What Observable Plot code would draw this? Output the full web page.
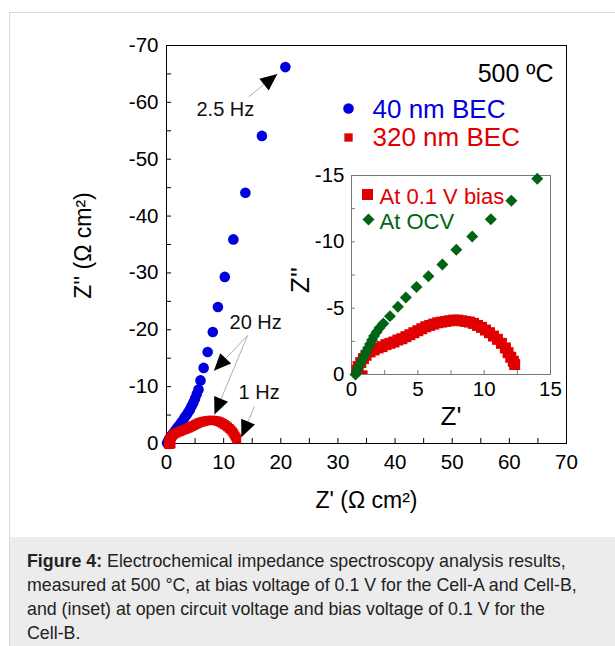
<!DOCTYPE html>
<html><head><meta charset="utf-8">
<script src="https://cdn.jsdelivr.net/npm/d3@7"></script>
<script src="https://cdn.jsdelivr.net/npm/@observablehq/plot@0.6"></script>
<style>
html,body{margin:0;padding:0;background:#fff;}
body{width:615px;height:646px;position:relative;overflow:hidden;font-family:"Liberation Sans",Arial,sans-serif;}
#panel{position:absolute;left:9px;top:12px;width:620px;height:650px;border:1px solid #d9d9d9;box-sizing:border-box;}
#main{position:absolute;left:0;top:0;}
#inset{position:absolute;left:300px;top:150px;}
#caption{position:absolute;left:10px;top:537px;width:605px;height:109px;background:#ececec;}
#caption p{margin:0;position:absolute;left:17px;top:12px;white-space:nowrap;font-size:17.8px;line-height:24px;color:#222;}
svg{overflow:visible;}
</style></head>
<body>
<div id="panel"></div>
<div id="caption"><p><b>Figure 4:</b> Electrochemical impedance spectroscopy analysis results,<br>measured at 500 °C, at bias voltage of 0.1 V for the Cell-A and Cell-B,<br>and (inset) at open circuit voltage and bias voltage of 0.1 V for the<br>Cell-B.</p></div>
<div id="main"></div>
<div id="inset"></div>
<script>
// ---------- data (Z' , Z'' in Ω cm²) ----------
const blueZre = [0.1,0.3,0.5,0.8,1.1,1.4,1.7,2.0,2.3,2.6,2.9,3.2,3.5,3.8,4.1,4.4,4.7,5.0,5.3,5.6,5.95,6.5,7.2,8.1,9.0,10.2,11.7,13.8,16.7,20.8];
const blueZim = [-0.1,-0.5,-0.9,-1.3,-1.7,-2.1,-2.5,-2.9,-3.3,-3.7,-4.1,-4.6,-5.0,-5.5,-6.0,-6.6,-7.2,-7.9,-8.7,-9.5,-11.1,-13.3,-16.1,-19.6,-24.0,-29.3,-35.9,-44.1,-54.1,-66.2];
const redZre = [0.3,0.5,0.8,0.4,0.5,0.7,0.9,1.1,1.4,1.7,2.0,2.3,2.6,2.9,3.2,3.5,3.8,4.1,4.4,4.7,5.0,5.3,5.6,5.9,6.2,6.5,6.8,7.1,7.4,7.7,8.0,8.3,8.6,8.9,9.2,9.5,9.8,10.1,10.4,10.7,11.0,11.3,11.6,11.8,12.0,12.2,12.3];
const redZim = [0.1,0.2,0.1,-0.3,-0.6,-0.9,-1.2,-1.45,-1.7,-1.85,-2.0,-2.1,-2.25,-2.35,-2.45,-2.6,-2.7,-2.85,-3.0,-3.15,-3.3,-3.45,-3.6,-3.7,-3.8,-3.9,-3.95,-4.0,-4.05,-4.1,-4.1,-4.05,-4.0,-3.95,-3.85,-3.7,-3.55,-3.35,-3.15,-2.9,-2.65,-2.35,-2.0,-1.65,-1.3,-1.0,-0.75];
const greenZre = [0.3,0.4,0.5,0.65,0.8,0.95,1.1,1.25,1.4,1.55,1.7,1.9,2.1,2.4,2.9,3.5,4.1,4.9,5.8,6.85,7.9,9.1,10.5,12.05,14.0];
const greenZim = [0.0,-0.25,-0.5,-0.8,-1.1,-1.4,-1.7,-2.0,-2.3,-2.6,-2.9,-3.2,-3.5,-3.85,-4.4,-5.1,-5.8,-6.6,-7.4,-8.3,-9.4,-10.4,-11.7,-13.1,-14.75];

// tick values
const mainMajor = [0,10,20,30,40,50,60,70];
const mainMinor = [5,15,25,35,45,55,65];
const insetMajor = [0,5,10,15];
const insetMinor = [2.5,7.5,12.5];

// annotations
const freqLabels = ["2.5 Hz","20 Hz","1 Hz"];
const freqLabelZre = [10.3,15.6,16.2];
const freqLabelZim = [-58.7,-21.3,-9.0];
const arrowFromZre = [14.4,14.2,14.2,15.4];
const arrowFromZim = [-61.0,-19.0,-19.0,-6.5];
const arrowToZre = [19.4,8.3,8.4,13.1];
const arrowToZim = [-65.0,-12.8,-5.1,-1.1];

const seriesNames = ["40 nm BEC","320 nm BEC"];
const insetNames = ["At 0.1 V bias","At OCV"];
const tempLabel = "500 ºC";

const BLUE = "#0000dc", RED = "#e00000", GREEN = "#006414";
const FONT = "Liberation Sans, Arial, Helvetica, sans-serif";

const pts = (xs, ys) => xs.map((x, i) => ({x, y: ys[i]}));
const blue = pts(blueZre, blueZim);
const red = pts(redZre, redZim);
const green = pts(greenZre, greenZim);
const fmt = d => String(d);

// ---------- main plot ----------
const W = 615, H = 530, ML = 166, MR = 49, MT = 45, MB = 87;
const kx = (W - ML - MR) / 70, ky = (H - MT - MB) / 70;
const tick = 5;
const allMain = mainMajor.concat(mainMinor);

const arrows = arrowFromZre.map((x1, i) => {
  const x2 = arrowToZre[i], y1 = arrowFromZim[i], y2 = arrowToZim[i];
  const dx = (x2 - x1) * kx, dy = (y2 - y1) * ky;
  return {x1, y1, x2, y2, angle: Math.atan2(dx, -dy) * 180 / Math.PI};
});
const labels = freqLabels.map((t, i) => ({t, x: freqLabelZre[i], y: freqLabelZim[i]}));

const head = {
  draw(context, l) {
    const w = 7.5;
    context.moveTo(0, -l);
    context.lineTo(-w, 0);
    context.lineTo(w, 0);
    context.closePath();
  }
};

const main = Plot.plot({
  width: W, height: H, marginLeft: ML, marginRight: MR, marginTop: MT, marginBottom: MB,
  style: {fontFamily: FONT, fontSize: "20px", color: "black", background: "transparent", overflow: "visible"},
  x: {domain: [0, 70]},
  y: {domain: [0, -70]},
  marks: [
    Plot.axisX({ticks: mainMajor, tickSize: 0, tickPadding: 11, tickFormat: fmt, label: null, fontSize: 20.5}),
    Plot.axisY({ticks: mainMajor.map(d => -d), tickSize: 0, tickPadding: 8, tickFormat: fmt, label: null, fontSize: 20.5}),
    Plot.ruleX(allMain, {x: d => d, y1: 0, y2: -tick / ky, stroke: "black"}),
    Plot.ruleY(allMain, {y: d => -d, x1: 0, x2: tick / kx, stroke: "black"}),
    Plot.frame({stroke: "black", strokeWidth: 1}),
    Plot.dot(blue, {x: "x", y: "y", r: 5.3, fill: BLUE, symbol: "circle"}),
    Plot.dot(red, {x: "x", y: "y", r: 5, fill: RED, symbol: "square"}),
    Plot.link(arrows, {x1: "x1", y1: "y1", x2: "x2", y2: "y2", stroke: "#999", strokeWidth: 0.8}),
    Plot.vector(arrows, {x: "x2", y: "y2", rotate: "angle", length: 17, anchor: "end", shape: head, fill: "black", stroke: "none"}),
    Plot.text(labels, {x: "x", y: "y", text: "t", fontSize: 20, fill: "#111"}),
    // legend
    Plot.text([tempLabel], {frameAnchor: "top-right", dx: -13, dy: 28, text: d => d, fontSize: 25, textAnchor: "end", lineAnchor: "middle"}),
    Plot.dot([0], {frameAnchor: "top-left", dx: 182, dy: 63, r: 5.3, fill: BLUE, symbol: "circle"}),
    Plot.text([seriesNames[0]], {frameAnchor: "top-left", dx: 206, dy: 64, text: d => d, fontSize: 26, fill: BLUE, textAnchor: "start", lineAnchor: "middle"}),
    Plot.dot([0], {frameAnchor: "top-left", dx: 182, dy: 92, r: 4.7, fill: RED, symbol: "square"}),
    Plot.text([seriesNames[1]], {frameAnchor: "top-left", dx: 206, dy: 92, text: d => d, fontSize: 26, fill: RED, textAnchor: "start", lineAnchor: "middle"}),
    // axis titles
    Plot.text(["Z'' (Ω cm²)"], {frameAnchor: "left", dx: -83, dy: 1, rotate: -90, text: d => d, fontSize: 23, textAnchor: "middle", lineAnchor: "middle"}),
    Plot.text(["Z' (Ω cm²)"], {frameAnchor: "bottom", dy: 57, text: d => d, fontSize: 23, textAnchor: "middle", lineAnchor: "middle"})
  ]
});
document.getElementById("main").append(main);

// ---------- inset ----------
const W2 = 270, H2 = 290, ML2 = 51, MR2 = 20, MT2 = 25, MB2 = 66;
const kx2 = (W2 - ML2 - MR2) / 15, ky2 = (H2 - MT2 - MB2) / 15;
const allInset = insetMajor.concat(insetMinor);
const inset = Plot.plot({
  width: W2, height: H2, marginLeft: ML2, marginRight: MR2, marginTop: MT2, marginBottom: MB2,
  style: {fontFamily: FONT, fontSize: "20px", color: "black", background: "transparent", overflow: "visible"},
  x: {domain: [0, 15]},
  y: {domain: [0, -15]},
  marks: [
    Plot.axisX({ticks: insetMajor, tickSize: 0, tickPadding: 7, tickFormat: fmt, label: null, fontSize: 20.5}),
    Plot.axisY({ticks: insetMajor.map(d => -d), tickSize: 0, tickPadding: 7, tickFormat: fmt, label: null, fontSize: 20.5}),
    Plot.ruleX(allInset, {x: d => d, y1: 0, y2: -4 / ky2, stroke: "#777"}),
    Plot.ruleY(allInset, {y: d => -d, x1: 0, x2: 4 / kx2, stroke: "#777"}),
    Plot.frame({stroke: "#777", strokeWidth: 1}),
    Plot.dot(red, {x: "x", y: "y", r: 6.2, fill: RED, symbol: "square", clip: true}),
    Plot.dot(green, {x: "x", y: "y", r: 5.4, fill: GREEN, symbol: d3.symbolDiamond2}),
    Plot.dot([0], {frameAnchor: "top-left", dx: 16, dy: 19, r: 6.2, fill: RED, symbol: "square"}),
    Plot.text([insetNames[0]], {frameAnchor: "top-left", dx: 28, dy: 21, text: d => d, fontSize: 22, fill: RED, textAnchor: "start", lineAnchor: "middle"}),
    Plot.dot([0], {frameAnchor: "top-left", dx: 17, dy: 44, r: 5.4, fill: GREEN, symbol: d3.symbolDiamond2}),
    Plot.text([insetNames[1]], {frameAnchor: "top-left", dx: 28, dy: 46, text: d => d, fontSize: 22, fill: GREEN, textAnchor: "start", lineAnchor: "middle"}),
    Plot.text(["Z''"], {frameAnchor: "left", dx: -51, dy: 5, rotate: -90, text: d => d, fontSize: 26, textAnchor: "middle", lineAnchor: "middle"}),
    Plot.text(["Z'"], {frameAnchor: "bottom", dy: 42, text: d => d, fontSize: 26, textAnchor: "middle", lineAnchor: "middle"})
  ]
});
document.getElementById("inset").append(inset);
</script>
</body></html>
